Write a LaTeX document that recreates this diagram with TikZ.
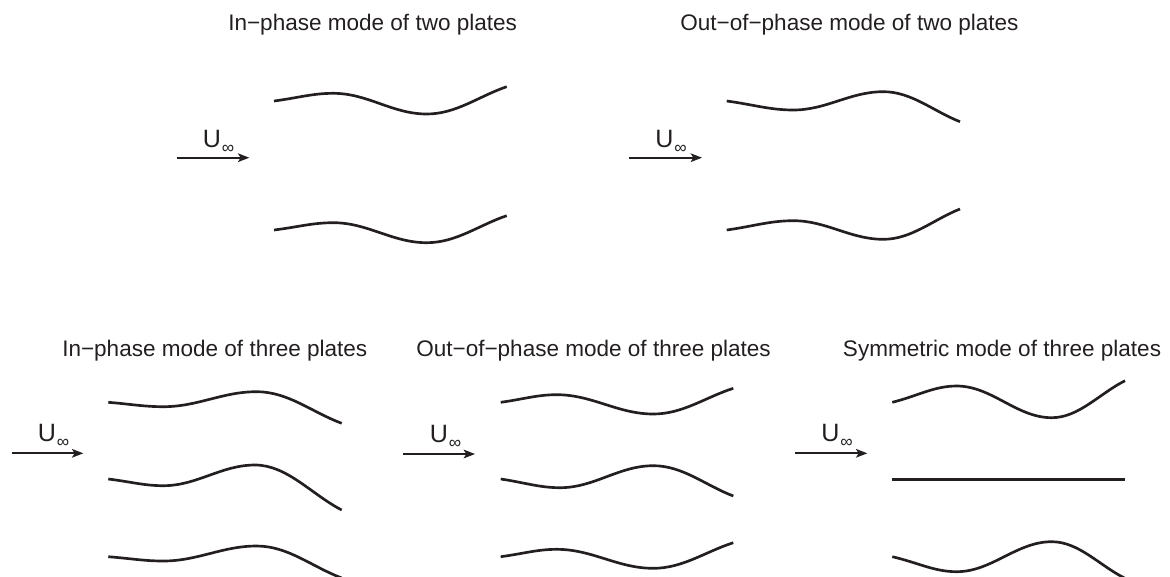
\documentclass[tikz,border=0pt]{standalone}
\usepackage{fontspec}
\setmainfont{Liberation Sans}
\usetikzlibrary{arrows.meta,calc}
\definecolor{ink}{RGB}{35,31,32}
\newcommand{\plate}[8]{%
  \draw[platecurve] (#1,#2)
    .. controls ($(#1,#2)!0.4!(#3,#4)$) and ({#3-0.35*(#3-#1)},#4) .. (#3,#4)
    .. controls ({#3+0.37*(#5-#3)},#4) and ({#5-0.37*(#5-#3)},#6) .. (#5,#6)
    .. controls ({#5+0.37*(#7-#5)},#6) and ($(#7,#8)!0.35!(#5,#6)$) .. (#7,#8);}
\newcommand{\uinf}{U\kern0.8pt\raisebox{-4.5pt}{\fontsize{13}{13}\selectfont ∞}}
\begin{document}
\begin{tikzpicture}[x=0.75pt,y=-0.75pt,
  platecurve/.style={draw=ink,line width=2pt},
  flow/.style={draw=ink,line width=1.4pt,-{Stealth[length=8.5pt,width=6.5pt,inset=2pt]}},
  title/.style={anchor=base west,inner sep=0pt,text=ink,font=\fontsize{16.9}{20}\selectfont},
  ulabel/.style={anchor=base west,inner sep=0pt,text=ink,font=\fontsize{18.8}{20}\selectfont}]
\useasboundingbox (0,0) rectangle (1170,576);
\clip (0,0) rectangle (1170,576);

% titles
\node[title] (t1) at (228,30.7) {In−phase mode of two plates};
\node[title] (t2) at (680,30.7) {Out−of−phase mode of two plates};
\node[title] (t3) at (62,356) {In−phase mode of three plates};
\node[title] (t4) at (416,356) {Out−of−phase mode of three plates};
\node[title] (t5) at (842.7,356) {Symmetric mode of three plates};

% flow arrows
\coordinate (a1s) at (176.7,157.7); \coordinate (a1e) at (249.3,157.7);
\coordinate (a2s) at (629.3,157.7); \coordinate (a2e) at (702,157.7);
\coordinate (a3s) at (11.7,453.3);  \coordinate (a3e) at (83.3,453.3);
\coordinate (a4s) at (403.3,454);   \coordinate (a4e) at (475,454);
\coordinate (a5s) at (795,453.3);   \coordinate (a5e) at (867.3,453.3);
\draw[flow] (a1s) -- (a1e);
\draw[flow] (a2s) -- (a2e);
\draw[flow] (a3s) -- (a3e);
\draw[flow] (a4s) -- (a4e);
\draw[flow] (a5s) -- (a5e);

\node[ulabel] (u1) at (202.5,147.3) {\uinf};
\node[ulabel] (u2) at (655,147.3) {\uinf};
\node[ulabel] (u3) at (37.5,441.5) {\uinf};
\node[ulabel] (u4) at (429.5,442) {\uinf};
\node[ulabel] (u5) at (821,441.5) {\uinf};

% in-phase, two plates
\plate{274}{101}{333.3}{93.3}{426.7}{114}{506.7}{86.7}
\plate{274}{230}{333.3}{222.7}{426.7}{242.7}{506.7}{215.7}
% out-of-phase, two plates
\plate{726.7}{101}{793.3}{110}{883.3}{91.7}{960}{121.7}
\plate{726.7}{230}{793.3}{220.7}{883.3}{239.3}{960}{209}
% in-phase, three plates
\plate{108.3}{402.3}{163.3}{406.7}{256.7}{391.7}{341.7}{423.3}
\plate{108.3}{479}{163.3}{485.7}{255}{465}{341.7}{510}
\plate{108.3}{556.7}{163.3}{561}{256.7}{546}{341.7}{578}
% out-of-phase, three plates
\plate{500.7}{402.3}{556.7}{394.7}{653.3}{414}{733.3}{388.3}
\plate{500.7}{479}{560}{487.7}{653.3}{465.7}{733.3}{496}
\plate{500.7}{556.7}{556.7}{549.3}{653.3}{568.3}{733.3}{542.7}
% symmetric, three plates
\plate{892.3}{402.3}{956.7}{386}{1051.7}{417.7}{1125}{380.7}
\draw[platecurve] (892.3,479.3) -- (1125,479.3);
\plate{892.3}{556.7}{956.7}{571.7}{1051.7}{541.7}{1125}{578.3}
\end{tikzpicture}
\end{document}
